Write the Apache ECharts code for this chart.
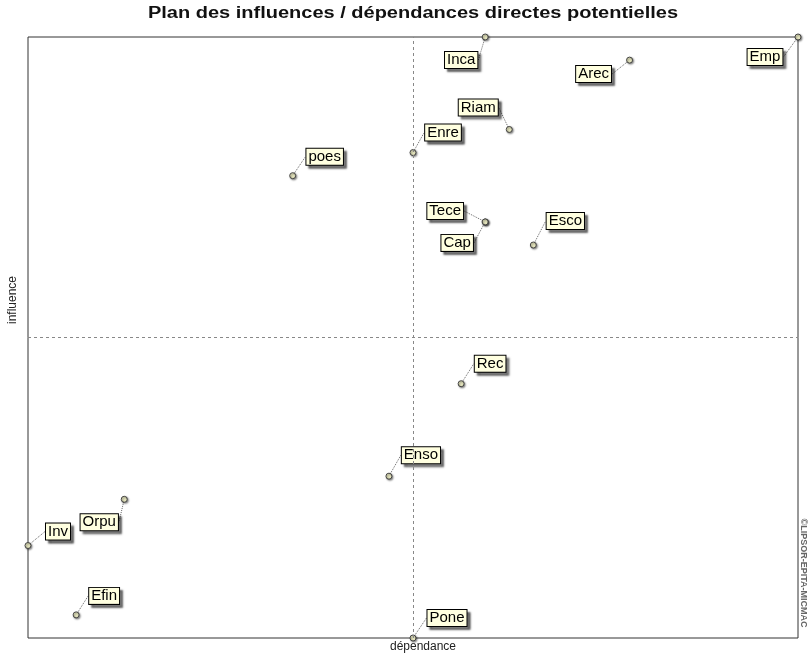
<!DOCTYPE html>
<html>
<head>
<meta charset="utf-8">
<script src="https://cdn.jsdelivr.net/npm/echarts@6/dist/echarts.min.js"></script>
<style>
  html, body { margin: 0; padding: 0; background: #fff; }
  #chart { width: 809px; height: 658px; }
</style>
</head>
<body>
<div id="chart"></div>
<script>
// variables du plan MICMAC
const names = ['Inca', 'Arec', 'Emp', 'Riam', 'Enre', 'poes', 'Tece', 'Cap', 'Esco', 'Rec', 'Enso', 'Orpu', 'Inv', 'Efin', 'Pone']
const dependance = [19, 25, 32, 20, 16, 11, 19, 19, 21, 18, 15, 4, 0, 2, 16]
const influence = [26, 25, 26, 22, 21, 20, 18, 18, 17, 11, 7, 6, 4, 1, 0]
const depMoyenne = 16
const inflMoyenne = 13

// décalage des étiquettes (px)
const labelShift = [[-24, 23], [-36, 14], [-33, 20], [-31, -22], [30, -20], [32, -19], [-40, -11], [-28, 21],
  [32, -24], [29, -20], [32, -21], [-25, 23], [30, -14], [28, -19], [34, -20]]

const font = '"Liberation Sans", Arial, sans-serif'
const chart = echarts.init(document.getElementById('chart'))

const points = names.map((n, i) => ({ name: n, value: [dependance[i], influence[i]] }))

const option = {
  animation: false,
  grid: {
    left: 28, right: 11, top: 37, bottom: 20,
    show: true, borderColor: '#333', borderWidth: 1
  },
  xAxis: {
    type: 'value', min: 0, max: 32,
    axisLine: { show: false }, axisTick: { show: false },
    axisLabel: { show: false }, splitLine: { show: false }
  },
  yAxis: {
    type: 'value', min: 0, max: 26,
    axisLine: { show: false }, axisTick: { show: false },
    axisLabel: { show: false }, splitLine: { show: false }
  },
  graphic: [
    {
      type: 'text', x: 413, y: 14, scaleX: 1.25,
      style: { text: 'Plan des influences / dépendances directes potentielles', align: 'center',
        verticalAlign: 'middle', font: 'bold 16px ' + font, fill: '#111' }
    },
    {
      type: 'text', x: 423, y: 647,
      style: { text: 'dépendance', align: 'center', verticalAlign: 'middle', font: '12px ' + font, fill: '#222' }
    },
    {
      type: 'text', x: 13, y: 300, rotation: Math.PI / 2,
      style: { text: 'influence', align: 'center', verticalAlign: 'middle', font: '12px ' + font, fill: '#222' }
    },
    {
      type: 'text', x: 803, y: 573, rotation: -Math.PI / 2,
      style: { text: '©LIPSOR-EPITA-MICMAC', align: 'center', verticalAlign: 'middle', font: 'bold 9px ' + font, fill: '#666' }
    }
  ],
  series: [
    {
      type: 'scatter',
      data: points,
      clip: false,
      symbol: 'circle',
      symbolSize: 6,
      itemStyle: {
        opacity: 1,
        color: '#e8e8c0', borderColor: '#444', borderWidth: 1,
        shadowColor: 'rgba(0,0,0,0.45)', shadowBlur: 2, shadowOffsetX: 1, shadowOffsetY: 1
      },
      label: {
        show: true,
        position: 'inside',
        formatter: '{b}',
        fontFamily: font,
        fontSize: 15,
        color: '#000',
        opacity: 1,
        backgroundColor: '#ffffe0',
        borderColor: '#000',
        borderWidth: 1,
        padding: [1, 2, 0, 2],
        shadowColor: 'rgba(0,0,0,0.5)',
        shadowBlur: 2,
        shadowOffsetX: 3,
        shadowOffsetY: 3
      },
      labelLine: {
        show: true,
        lineStyle: { color: '#666', width: 1, type: 'dotted', opacity: 1 }
      },
      labelLayout: function (params) {
        const s = labelShift[params.dataIndex]
        return { dx: s[0], dy: s[1] }
      },
      markLine: {
        silent: true,
        symbol: 'none',
        label: { show: false },
        lineStyle: { color: '#888', width: 1, type: [3, 3] },
        data: [{ xAxis: depMoyenne }, { yAxis: inflMoyenne }]
      }
    }
  ]
}

chart.setOption(option)
</script>
</body>
</html>
